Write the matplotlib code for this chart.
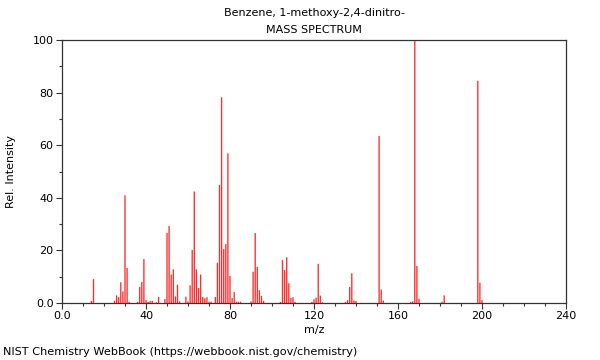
import matplotlib
matplotlib.use("Agg")
import matplotlib.pyplot as plt
from matplotlib.ticker import MultipleLocator, FixedLocator, FixedFormatter

title_line1 = "Benzene, 1-methoxy-2,4-dinitro-"
title_line2 = "MASS SPECTRUM"
footer = "NIST Chemistry WebBook (https://webbook.nist.gov/chemistry)"

mz = [14, 15, 25, 26, 27, 28, 29, 30, 31, 32, 36, 37, 38, 39, 40, 41, 42, 43, 45, 46,
      49, 50, 51, 52, 53, 54, 55, 56, 59, 60, 61, 62, 63, 64, 65, 66, 67, 68, 69, 70,
      71, 73, 74, 75, 76, 77, 78, 79, 80, 81, 82, 83, 84, 85, 90, 91, 92, 93, 94, 95,
      96, 104, 105, 106, 107, 108, 109, 110, 111, 119, 120, 121, 122, 123, 124, 135,
      136, 137, 138, 139, 140, 151, 152, 153, 166, 167, 168, 169, 170, 181, 182, 198,
      199, 200]
intensity = [0.8, 9.1, 0.8, 2.9, 2.2, 7.9, 4.4, 40.9, 13.3, 0.4, 0.4, 6.1, 8.0, 16.7, 1.1,
             0.4, 0.8, 0.8, 0.3, 2.3,
             1.5, 26.6, 29.3, 10.8, 12.8, 2.5, 7.0, 0.6, 2.4, 0.6, 6.7, 20.2, 42.4, 12.8,
             5.7, 10.8, 2.3, 1.8, 2.2, 0.5,
             0.5, 2.3, 15.3, 44.9, 78.2, 20.5, 22.4, 56.9, 10.3, 1.9, 4.2, 0.5, 0.5, 0.5,
             0.6, 11.9, 26.6, 13.7, 4.9, 2.7,
             0.8, 0.4, 16.3, 12.5, 17.4, 7.5, 1.9, 2.2, 0.4, 0.4, 1.4, 2.0, 14.9, 2.8, 0.3,
             0.4,
             1.1, 6.1, 11.3, 1.0, 0.8, 63.5, 5.1, 0.9, 0.4, 0.6, 100.0, 14.1, 1.6, 0.5,
             2.9, 84.5,
             7.7, 1.1]

x_ticks = [0, 40, 80, 120, 160, 200, 240]
x_ticklabels = ["0.0", "40", "80", "120", "160", "200", "240"]
y_ticks = [0, 20, 40, 60, 80, 100]
y_ticklabels = ["0.0", "20", "40", "60", "80", "100"]

plt.rcParams['font.family'] = ['DejaVu Sans']
fig = plt.figure(figsize=(6, 3.6), dpi=100)
ax = fig.add_axes([62/600, 1-303/360, (566-62)/600, (303-40)/360])

ax.vlines(mz, 0, intensity, color='#ff2a2a', linewidth=0.95, snap=False)

ax.set_xlim(0, 240)
ax.set_ylim(0, 100)
ax.xaxis.set_major_locator(FixedLocator(x_ticks))
ax.xaxis.set_major_formatter(FixedFormatter(x_ticklabels))
ax.yaxis.set_major_locator(FixedLocator(y_ticks))
ax.yaxis.set_major_formatter(FixedFormatter(y_ticklabels))
ax.xaxis.set_minor_locator(MultipleLocator(10))
ax.yaxis.set_minor_locator(MultipleLocator(10))
ax.tick_params(which='major', length=4, width=0.8, color='#333333', labelsize=8, pad=2)
ax.tick_params(which='minor', length=2, width=0.8, color='#333333')
for s in ax.spines.values():
    s.set_color('#333333')
    s.set_linewidth(0.9)

ax.set_xlabel("m/z", fontsize=8, labelpad=3)
ax.set_ylabel("Rel. Intensity", fontsize=8, labelpad=12)

cx = (62 + 566) / 2 / 600
fig.text(cx, 1 - 13/360, title_line1, ha='center', va='center', fontsize=8)
fig.text(cx, 1 - 30/360, title_line2, ha='center', va='center', fontsize=8)
fig.text(3/600, 1 - 352/360, footer, ha='left', va='center', fontsize=8.15)

fig.savefig("out.png", dpi=100)
